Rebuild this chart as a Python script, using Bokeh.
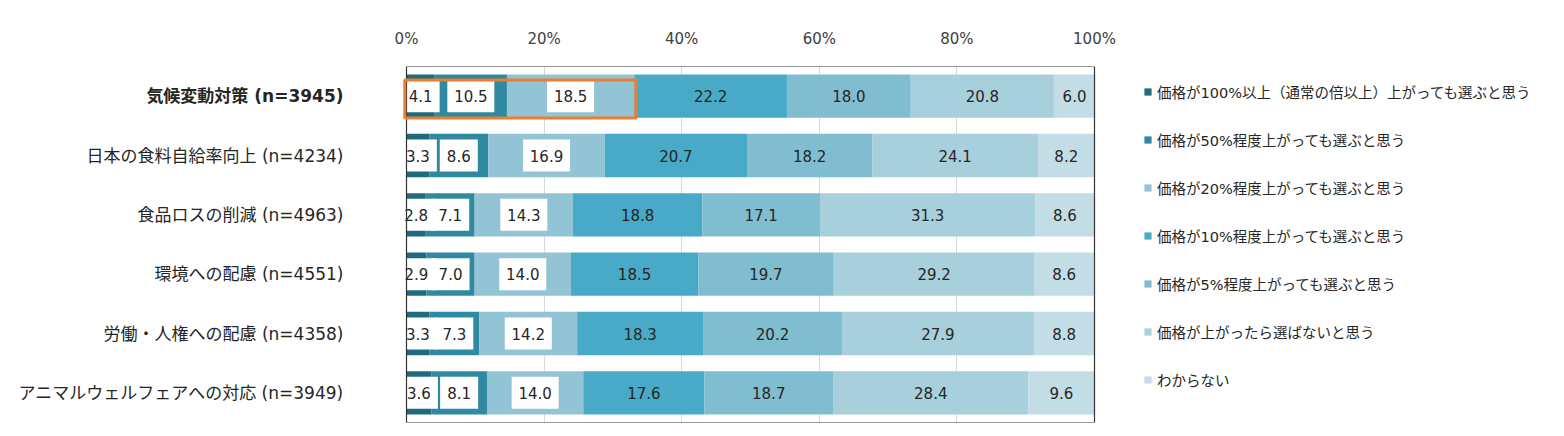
from bokeh.plotting import figure
from bokeh.models import (ColumnDataSource, LabelSet, Legend, LegendItem,
                          BoxAnnotation, FactorRange, Range1d, FixedTicker)
from bokeh.core.properties import value
from bokeh.embed import file_html
from bokeh.resources import INLINE

categories = [
    "気候変動対策 (n=3945)",
    "日本の食料自給率向上 (n=4234)",
    "食品ロスの削減 (n=4963)",
    "環境への配慮 (n=4551)",
    "労働・人権への配慮 (n=4358)",
    "アニマルウェルフェアへの対応 (n=3949)",
]
series_labels = [
    "価格が100%以上（通常の倍以上）上がっても選ぶと思う",
    "価格が50%程度上がっても選ぶと思う",
    "価格が20%程度上がっても選ぶと思う",
    "価格が10%程度上がっても選ぶと思う",
    "価格が5%程度上がっても選ぶと思う",
    "価格が上がったら選ばないと思う",
    "わからない",
]
s100 = [4.1, 3.3, 2.8, 2.9, 3.3, 3.6]
s50 = [10.5, 8.6, 7.1, 7.0, 7.3, 8.1]
s20 = [18.5, 16.9, 14.3, 14.0, 14.2, 14.0]
s10 = [22.2, 20.7, 18.8, 18.5, 18.3, 17.6]
s5 = [18.0, 18.2, 17.1, 19.7, 20.2, 18.7]
s_no = [20.8, 24.1, 31.3, 29.2, 27.9, 28.4]
s_dk = [6.0, 8.2, 8.6, 8.6, 8.8, 9.6]
tick_values = [0, 20, 40, 60, 80, 100]
tick_labels = ["0%", "20%", "40%", "60%", "80%", "100%"]

colors = ["#1f6b7c", "#2f8aa1", "#93c4d5", "#48aac6", "#80bdd0", "#a8cfdc", "#c3dde7"]
keys = ["s100", "s50", "s20", "s10", "s5", "s_no", "s_dk"]
all_series = [s100, s50, s20, s10, s5, s_no, s_dk]

FONT = "DejaVu Sans, Noto Sans CJK JP"
TXT = "#262626"

# layout (pixels): the 0-100% scale spans x=406..1094 of a 1548px-wide canvas
W, H = 1548, 428
X0, X100 = 406, 1094
ppu = (X100 - X0) / 100.0

source = ColumnDataSource(dict(cat=categories, **{k: v for k, v in zip(keys, all_series)}))

p = figure(width=W, height=H,
           y_range=FactorRange(factors=categories[::-1]),
           x_range=Range1d(-X0 / ppu, 100 + (W - X100) / ppu),
           output_backend="svg", toolbar_location=None,
           x_axis_location="above",
           min_border_left=0, min_border_right=0,
           min_border_top=66, min_border_bottom=6)

renderers = p.hbar_stack(keys, y="cat", height=0.73, color=colors,
                         source=source, line_color=None)

# axes / grid
p.yaxis.visible = False
p.ygrid.grid_line_color = None
p.xgrid.ticker = FixedTicker(ticks=tick_values[1:-1])
p.xgrid.grid_line_color = "#d9d9d9"
p.xaxis.ticker = FixedTicker(ticks=tick_values)
p.xaxis.major_label_overrides = {v: l for v, l in zip(tick_values, tick_labels)}
p.xaxis.axis_line_color = None
p.xaxis.major_tick_line_color = None
p.xaxis.minor_tick_line_color = None
p.xaxis.major_label_standoff = 13
p.xaxis.major_label_text_font = FONT
p.xaxis.major_label_text_font_size = "15px"
p.xaxis.major_label_text_color = "#404040"
p.outline_line_color = None

# plot-area border around the 0-100% scale
p.add_layout(BoxAnnotation(left=tick_values[0], right=tick_values[-1],
                           fill_color=None, fill_alpha=0,
                           line_color="#333333", line_alpha=1.0, line_width=1.2,
                           level="overlay"))

# data labels
bx, by, bt, bw, px_, py, pt = [], [], [], [], [], [], []
for i, cat in enumerate(categories):
    cum = 0.0
    for j, s in enumerate(all_series):
        v = s[i]
        mid = cum + v / 2
        cum += v
        t = f"{v:.1f}"
        if j < 3:
            bx.append(mid); by.append(cat); bt.append(t)
            bw.append(14 + 9 * len(t) - 3)
        else:
            px_.append(mid); py.append(cat); pt.append(t)

box_src = ColumnDataSource(dict(x=bx, y=by, t=bt, w=bw))
p.rect(x="x", y="y", width="w", height=32, width_units="screen", height_units="screen",
       source=box_src, fill_color="white", line_color=None)

boxed = LabelSet(x="x", y="y", text="t", source=box_src,
                 text_align="center", text_baseline="middle",
                 text_font=value(FONT), text_font_size="15px", text_color=TXT)
plain = LabelSet(x="x", y="y", text="t",
                 source=ColumnDataSource(dict(x=px_, y=py, t=pt)),
                 text_align="center", text_baseline="middle",
                 text_font=value(FONT), text_font_size="15px", text_color=TXT)
p.add_layout(boxed)
p.add_layout(plain)

# category labels
bold_src = ColumnDataSource(dict(x=[0], y=categories[:1], t=categories[:1]))
norm_src = ColumnDataSource(dict(x=[0] * (len(categories) - 1), y=categories[1:], t=categories[1:]))
for src, style in ((bold_src, "bold"), (norm_src, "normal")):
    p.add_layout(LabelSet(x="x", y="y", text="t", source=src, x_offset=-63,
                          text_align="right", text_baseline="middle",
                          text_font=value(FONT), text_font_size="17px",
                          text_font_style=value(style), text_color=TXT))

# highlight box around first three segments of the first row
top_idx = len(categories) - 1
first3 = s100[0] + s50[0] + s20[0]
p.add_layout(BoxAnnotation(left=-0.25, right=first3 + 0.25,
                           bottom=top_idx + 0.5 - 0.367, top=top_idx + 0.5 + 0.273,
                           fill_color=None, fill_alpha=0,
                           line_color="#ed7d31", line_alpha=1.0, line_width=3,
                           level="overlay"))

legend = Legend(items=[LegendItem(label=l, renderers=[r]) for l, r in zip(series_labels, renderers)],
                location=(1143, 32), orientation="vertical",
                glyph_width=9, glyph_height=9, label_height=21, spacing=27,
                label_standoff=5, padding=0, margin=0,
                border_line_color=None, background_fill_alpha=0,
                label_text_font=FONT, label_text_font_size="14.5px",
                label_text_color=TXT)
p.add_layout(legend)

open("out.html", "w").write(file_html(p, INLINE))
